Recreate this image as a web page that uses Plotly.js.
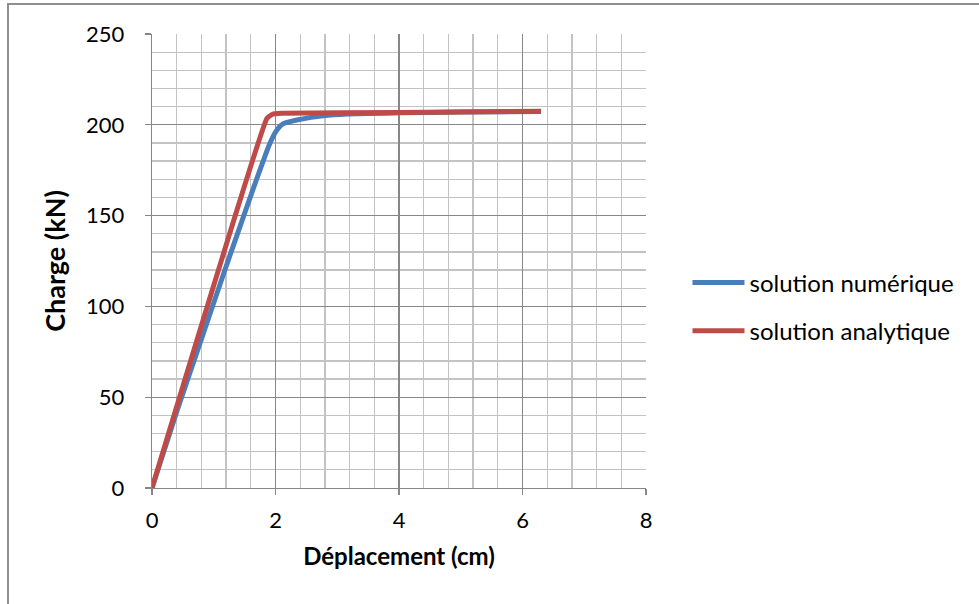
<!DOCTYPE html>
<html>
<head>
<meta charset="utf-8">
<script src="https://cdn.plot.ly/plotly-3.0.1.min.js"></script>
<style>
  html, body { margin: 0; padding: 0; background: #fff; }
  #wrap { position: relative; width: 979px; height: 604px; }
  #chart { width: 979px; height: 604px; }
  #frame { position: absolute; left: 7px; top: 3px; right: 0; bottom: 0;
           border-top: 2px solid #8e8e8e; border-left: 2px solid #8e8e8e;
           pointer-events: none; }
</style>
</head>
<body>
<div id="wrap">
  <div id="chart"></div>
  <div id="frame"></div>
</div>
<script>
// Numerical solution
const numX = [0, 0.4, 0.8, 1.2, 1.6, 1.8, 1.9, 2.0, 2.12, 2.4, 2.77, 3.16, 4.0, 5.0, 6.3];
const numY = [0, 42, 82, 122, 161, 180, 189, 196, 200.5, 203, 205, 206, 206.6, 207, 207.3];
// Analytical solution
const anaX = [0, 1.86, 1.95, 2.1, 4.0, 6.3];
const anaY = [0, 203.5, 205.8, 206.3, 206.8, 207.4];

const seriesNames = ['solution numérique', 'solution analytique'];
const xTickVals = [0, 2, 4, 6, 8];
const yTickVals = [0, 50, 100, 150, 200, 250];

const font = 'Lato, "Open Sans", sans-serif';

const traces = [
  { x: numX, y: numY, mode: 'lines', name: seriesNames[0], legendgroup: 'a',
    line: { color: '#4a7ebb', width: 5, shape: 'spline', smoothing: 0.6 } },
  { x: anaX, y: anaY, mode: 'lines', name: seriesNames[1], legendgroup: 'b',
    line: { color: '#be4b48', width: 5, shape: 'spline', smoothing: 0.3 } }
];

const layout = {
  width: 979, height: 604,
  margin: { l: 152, r: 333, t: 34, b: 116 },
  paper_bgcolor: '#fff', plot_bgcolor: '#fff',
  font: { family: font, color: '#000', size: 22 },
  showlegend: true,
  legend: { x: 1.084, y: 0.399, xanchor: 'left', yanchor: 'middle',
            font: { family: font, size: 24, color: '#000' },
            traceorder: 'grouped', tracegroupgap: 14, itemwidth: 52 },
  xaxis: {
    range: [0, 8], tickvals: xTickVals, ticktext: xTickVals.map(String),
    showgrid: true, gridcolor: '#878787', gridwidth: 1.3,
    minor: { dtick: 0.4, showgrid: true, gridcolor: '#c3c3c3', gridwidth: 1.3 },
    zeroline: false, showline: true, linecolor: '#878787', linewidth: 1.3,
    ticks: 'outside', ticklen: 6, tickcolor: '#878787', tickwidth: 1.3,
    ticklabelstandoff: 6,
    tickfont: { family: font, size: 22 },
    title: { text: '<b>Déplacement (cm)</b>', font: { family: font, size: 24 }, standoff: 16 }
  },
  yaxis: {
    range: [0, 250], tickvals: yTickVals, ticktext: yTickVals.map(String),
    showgrid: true, gridcolor: '#878787', gridwidth: 1.3,
    minor: { dtick: 10, showgrid: true, gridcolor: '#c3c3c3', gridwidth: 1.3 },
    zeroline: false, showline: true, linecolor: '#878787', linewidth: 1.3,
    ticks: 'outside', ticklen: 6, tickcolor: '#878787', tickwidth: 1.3,
    ticklabelstandoff: 16,
    tickfont: { family: font, size: 22 },
    title: { text: '<b>Charge (kN)</b>', font: { family: font, size: 27 }, standoff: 12 }
  }
};

Plotly.newPlot('chart', traces, layout, { displayModeBar: false, staticPlot: true }).then(function () {
  document.querySelectorAll('#chart .legend .legendlines path').forEach(function (p) {
    p.setAttribute('d', 'M5,0h52');
  });
});
</script>
</body>
</html>
